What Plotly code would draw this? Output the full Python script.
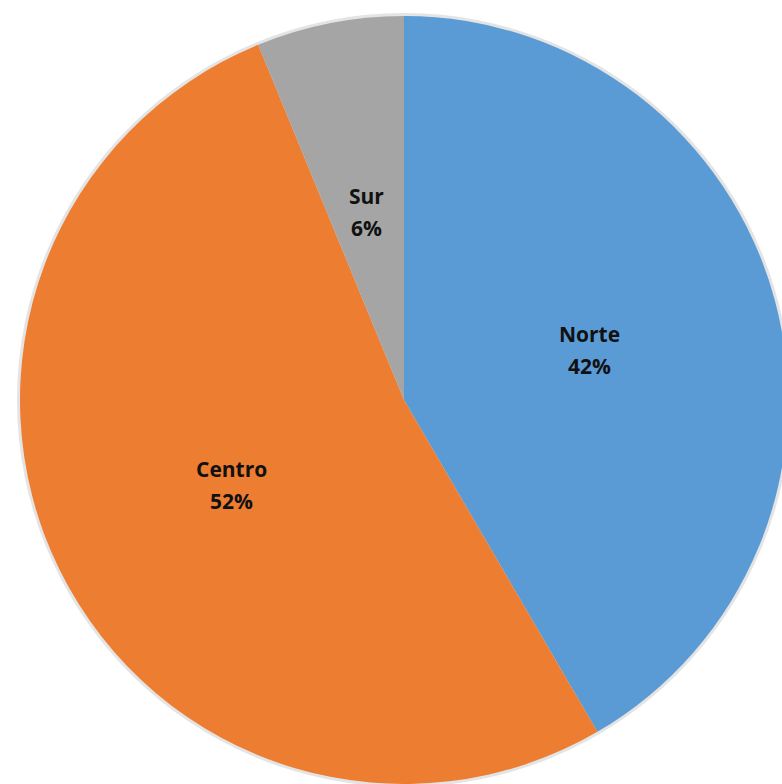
import math
import plotly.graph_objects as go

regions = ["Norte", "Centro", "Sur"]
shares = [41.6, 52.2, 6.2]
colors = ["#5B9BD5", "#ED7D31", "#A5A5A5"]

W, H = 810, 800
cx, cy, R = 404, 400, 384


def dom(r):
    return dict(x=[(cx - r) / W, (cx + r) / W], y=[1 - (cy + r) / H, 1 - (cy - r) / H])


fig = go.Figure()

# soft outer shadow ring
fig.add_trace(go.Pie(
    values=[1], labels=[""], sort=False, textinfo="none", hoverinfo="skip",
    marker=dict(colors=["#e4e4e4"], line=dict(width=0)),
    showlegend=False, domain=dom(R + 3),
))

fig.add_trace(go.Pie(
    labels=regions,
    values=shares,
    sort=False,
    direction="clockwise",
    rotation=0,
    marker=dict(colors=colors, line=dict(width=0)),
    textinfo="none",
    showlegend=False,
    hoverinfo="label+percent",
    domain=dom(R),
))

# data labels placed at half radius on each slice's mid-angle
total = sum(shares)
cum = 0
annotations = []
for name, v in zip(regions, shares):
    mid = (cum + v / 2) / total * 2 * math.pi
    cum += v
    px = cx + 0.5 * R * math.sin(mid)
    py = cy - 0.5 * R * math.cos(mid)
    pct = f"{v / total * 100:.0f}%"
    for txt, shift in ((name, 16), (pct, -16)):
        annotations.append(dict(
            x=px / W, y=1 - py / H, xref="paper", yref="paper",
            text=f"<b>{txt}</b>", showarrow=False, yshift=shift,
            font=dict(family="Open Sans", size=21, color="#111111"),
            xanchor="center", yanchor="middle",
        ))

fig.update_layout(
    width=W, height=H,
    margin=dict(l=0, r=0, t=0, b=0),
    paper_bgcolor="white",
    plot_bgcolor="white",
    annotations=annotations,
)

fig.write_html("out.html")
